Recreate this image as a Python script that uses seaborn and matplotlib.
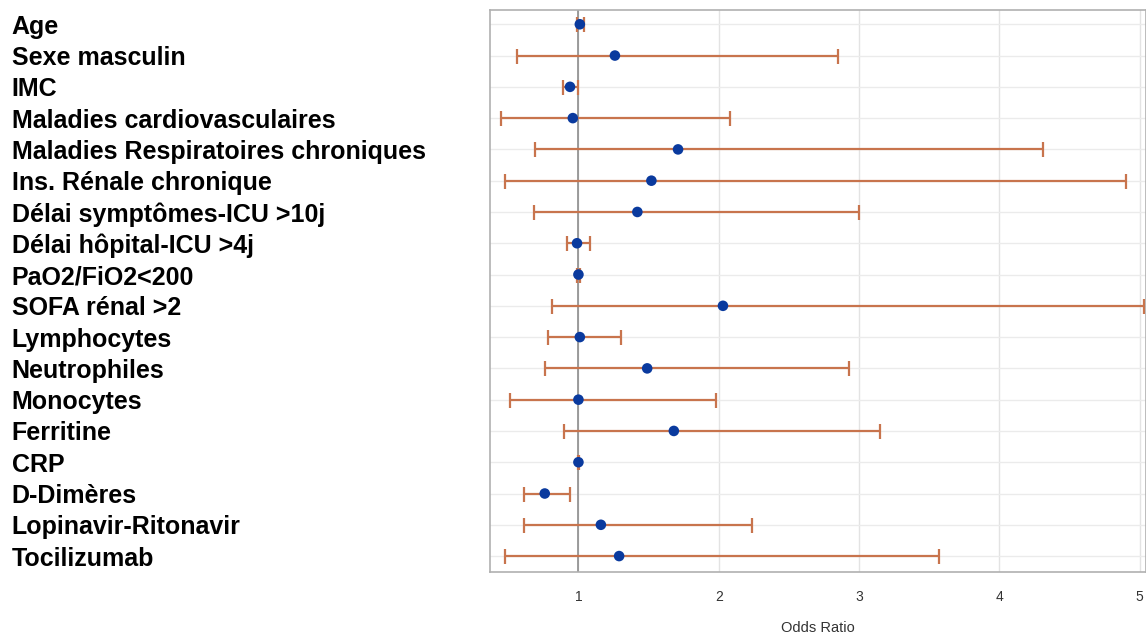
import matplotlib
matplotlib.use("Agg")
import matplotlib.pyplot as plt
import seaborn as sns
import pandas as pd
import numpy as np

variables = ["Age", "Sexe masculin", "IMC", "Maladies cardiovasculaires",
             "Maladies Respiratoires chroniques", "Ins. Rénale chronique",
             "Délai symptômes-ICU >10j", "Délai hôpital-ICU >4j", "PaO2/FiO2<200",
             "SOFA rénal >2", "Lymphocytes", "Neutrophiles", "Monocytes", "Ferritine",
             "CRP", "D-Dimères", "Lopinavir-Ritonavir", "Tocilizumab"]
odds_ratio = [1.01, 1.26, 0.94, 0.96, 1.71, 1.52, 1.42, 0.99, 1.00, 2.03,
              1.01, 1.49, 1.00, 1.68, 1.00, 0.76, 1.16, 1.29]
ci_low = [0.99, 0.56, 0.89, 0.45, 0.69, 0.48, 0.68, 0.92, 0.99, 0.815,
          0.78, 0.76, 0.51, 0.90, 0.995, 0.61, 0.61, 0.48]
ci_high = [1.04, 2.85, 1.00, 2.08, 4.31, 4.90, 3.00, 1.08, 1.01, 5.03,
           1.30, 2.93, 1.98, 3.15, 1.005, 0.94, 2.24, 3.57]
x_ticks = [1, 2, 3, 4, 5]

df = pd.DataFrame({"var": variables, "or": odds_ratio, "lo": ci_low, "hi": ci_high})
df["pos"] = np.arange(len(df))

sns.set_style("white")
plt.rcParams["font.family"] = ["Liberation Sans", "DejaVu Sans"]

fig = plt.figure(figsize=(11.46, 6.37), dpi=100)
ax = fig.add_axes([0.4276, 0.102, 0.5724, 0.882])

ax.set_xlim(0.37, 5.045)
ax.set_ylim(len(df) - 0.49, -0.45)

# grid
for t in x_ticks:
    ax.axvline(t, color="#e3e3e3", lw=1, zorder=0)
for p in df["pos"]:
    ax.axhline(p, color="#ebebeb", lw=1, zorder=0)
ax.axvline(1, color="#8c8c8c", lw=1.2, zorder=1)

ax.errorbar(df["or"], df["pos"],
            xerr=[df["or"] - df["lo"], df["hi"] - df["or"]],
            fmt="none", ecolor="#c8744d", elinewidth=1.6, capsize=5.4,
            capthick=1.6, zorder=2)
sns.scatterplot(data=df, x="or", y="pos", ax=ax, color="#0a3a9e", s=58,
                edgecolor="none", zorder=3, legend=False)

ax.set_yticks(df["pos"])
ax.set_yticklabels(df["var"], fontsize=18, fontweight="bold", color="black")
for lab in ax.get_yticklabels():
    lab.set_ha("left")
ax.tick_params(axis="y", length=0, pad=344.5)

ax.set_xticks(x_ticks)
ax.set_xticklabels([str(t) for t in x_ticks], fontsize=10, color="#333333")
ax.tick_params(axis="x", length=5, color="#a0a0a0", pad=8)
ax.set_xlabel("Odds Ratio", fontsize=10.5, color="#333333", labelpad=12)
ax.set_ylabel("")

for s in ax.spines.values():
    s.set_color("#b0b0b0")
    s.set_linewidth(1.2)

fig.savefig("out.png", dpi=100)
